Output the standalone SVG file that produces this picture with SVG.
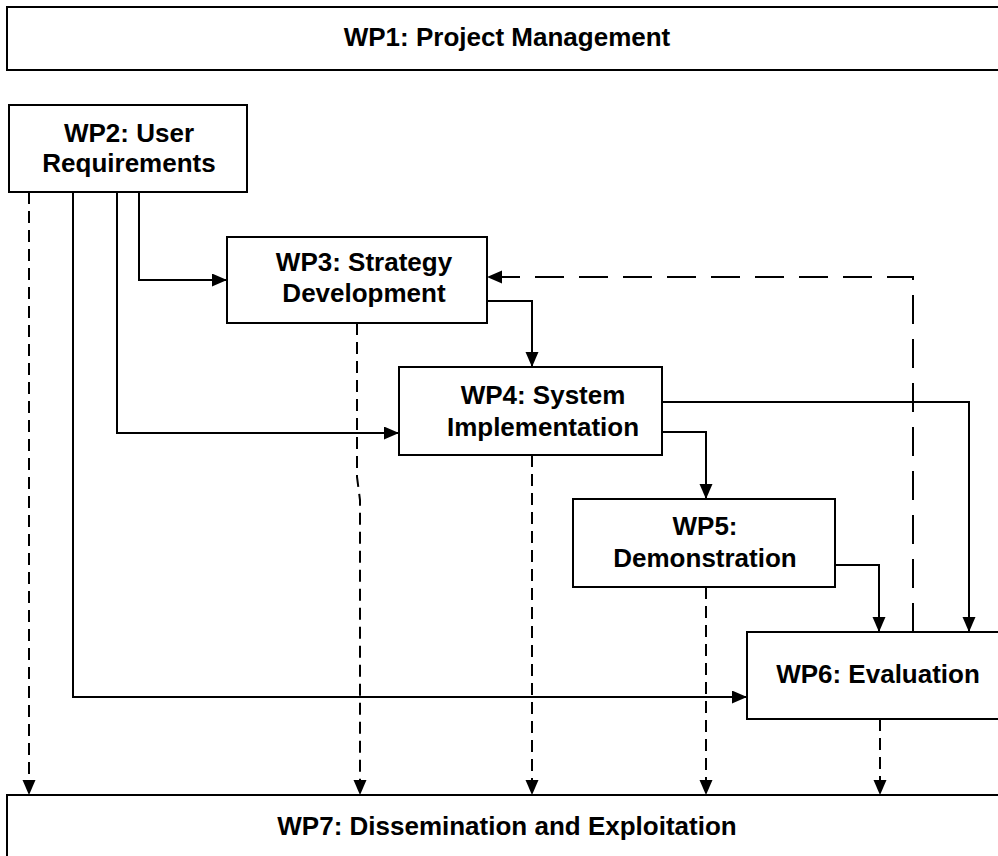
<svg xmlns="http://www.w3.org/2000/svg" width="998" height="856" viewBox="0 0 998 856">
<style>
  .box { fill: #ffffff; stroke: #000000; stroke-width: 2; }
  .lbl { font-family: "Liberation Sans", Arial, sans-serif; font-weight: bold; font-size: 26px; fill: #000000; text-anchor: middle; }
  .solid { fill: none; stroke: #000000; stroke-width: 2; marker-end: url(#arrow); }
  .dash { fill: none; stroke: #000000; stroke-width: 2; stroke-dasharray: 12 7; marker-end: url(#arrow); }
  .longdash { fill: none; stroke: #000000; stroke-width: 2; stroke-dasharray: 29 15; marker-end: url(#arrow); }
</style>
<defs>
  <marker id="arrow" markerUnits="userSpaceOnUse" markerWidth="16" markerHeight="14" refX="15" refY="6.5" orient="auto">
    <path d="M0,0 L15,6.5 L0,13 Z" fill="#000000"/>
  </marker>
</defs>
<rect width="998" height="856" fill="#ffffff"/>
<g id="connectors">
  <!-- WP2 to WP7 -->
  <path class="dash" d="M29,192 V795"/>
  <!-- WP2 to WP3 -->
  <path class="solid" d="M139,192 V280 H227"/>
  <!-- WP2 to WP4 -->
  <path class="solid" d="M117,192 V433 H399"/>
  <!-- WP2 to WP6 -->
  <path class="solid" d="M73,192 V697 H747"/>
  <!-- WP3 to WP4 -->
  <path class="solid" d="M487,301 H532 V367"/>
  <!-- WP3 to WP7 -->
  <path class="dash" d="M357,323 V477 L360,500 V795"/>
  <!-- WP4 to WP5 -->
  <path class="solid" d="M662,432 H706 V499"/>
  <!-- WP4 to WP6 -->
  <path class="solid" d="M662,402 H969 V632"/>
  <!-- WP4 to WP7 -->
  <path class="dash" d="M532,455 V795"/>
  <!-- WP5 to WP6 -->
  <path class="solid" d="M835,565 H879 V632"/>
  <!-- WP5 to WP7 -->
  <path class="dash" d="M706,587 V795"/>
  <!-- WP6 to WP7 -->
  <path class="dash" d="M880,719 V795"/>
  <!-- WP6 feedback to WP3 -->
  <path class="longdash" d="M913,632 V277 H487"/>
</g>
<g id="wp1">
  <rect class="box" x="7" y="7" width="1010" height="63"/>
  <text class="lbl" x="507" y="46">WP1: Project Management</text>
</g>
<g id="wp2">
  <rect class="box" x="9" y="105" width="238" height="87"/>
  <text class="lbl" x="129" y="142">WP2: User</text>
  <text class="lbl" x="129" y="172">Requirements</text>
</g>
<g id="wp3">
  <rect class="box" x="227" y="237" width="260" height="86"/>
  <text class="lbl" x="364" y="271">WP3: Strategy</text>
  <text class="lbl" x="364" y="302">Development</text>
</g>
<g id="wp4">
  <rect class="box" x="399" y="367" width="263" height="88"/>
  <text class="lbl" x="543" y="404">WP4: System</text>
  <text class="lbl" x="543" y="436">Implementation</text>
</g>
<g id="wp5">
  <rect class="box" x="573" y="499" width="262" height="88"/>
  <text class="lbl" x="705" y="535">WP5:</text>
  <text class="lbl" x="705" y="567">Demonstration</text>
</g>
<g id="wp6">
  <rect class="box" x="747" y="632" width="262" height="87"/>
  <text class="lbl" x="878" y="683">WP6: Evaluation</text>
</g>
<g id="wp7">
  <rect class="box" x="7" y="795" width="1010" height="80"/>
  <text class="lbl" x="507" y="835">WP7: Dissemination and Exploitation</text>
</g>
</svg>
